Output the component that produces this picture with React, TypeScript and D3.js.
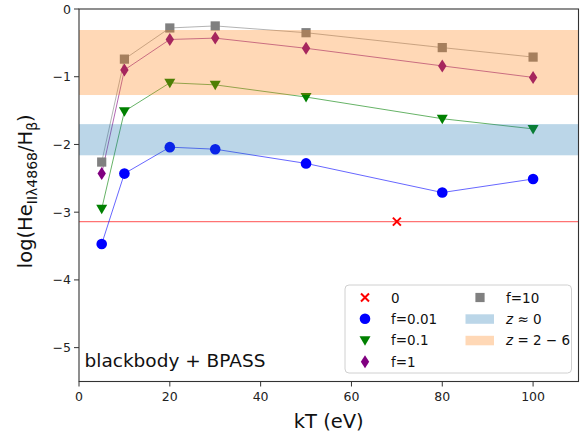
import React from "react";
import * as d3 from "d3";

const kT = [5, 10, 20, 30, 50, 80, 100];
const f001 = [-3.47, -2.43, -2.04, -2.07, -2.28, -2.71, -2.51];
const f01 = [-2.95, -1.51, -1.09, -1.12, -1.30, -1.62, -1.77];
const f1 = [-2.43, -0.90, -0.45, -0.43, -0.58, -0.84, -1.01];
const f10 = [-2.26, -0.74, -0.28, -0.25, -0.35, -0.57, -0.71];
const zeroLevel = -3.14;
const zeroPointX = 70;
const bandLocal = [-2.16, -1.70];
const bandHighZ = [-1.27, -0.31];
const xTicks = [0, 20, 40, 60, 80, 100];
const yTicks = [0, -1, -2, -3, -4, -5];

const W = 582, H = 433;
const M = { left: 79, right: 578.5, top: 9, bottom: 381.5 };
const FONT = "DejaVu Sans, sans-serif";

export default function App() {
  const x = d3.scaleLinear().domain([0, 110]).range([M.left, M.right]);
  const y = d3.scaleLinear().domain([-5.5, 0]).range([M.bottom, M.top]);
  const line = d3.line<number>().x((_, i) => x(kT[i])).y((d) => y(d));

  const series = [
    { vals: f001, color: "blue", shape: "circle" },
    { vals: f01, color: "green", shape: "tri" },
    { vals: f1, color: "purple", shape: "diamond" },
    { vals: f10, color: "gray", shape: "square" },
  ];

  const marker = (shape: string, cx: number, cy: number, color: string, key: string) => {
    if (shape === "circle") return <circle key={key} cx={cx} cy={cy} r={5.3} fill={color} />;
    if (shape === "tri")
      return <path key={key} d={`M${cx - 5.5},${cy - 4} L${cx + 5.5},${cy - 4} L${cx},${cy + 5.5} Z`} fill={color} />;
    if (shape === "diamond")
      return <path key={key} d={`M${cx},${cy - 6.5} L${cx + 4.2},${cy} L${cx},${cy + 6.5} L${cx - 4.2},${cy} Z`} fill={color} />;
    if (shape === "square") return <rect key={key} x={cx - 4.6} y={cy - 4.6} width={9.2} height={9.2} fill={color} />;
    if (shape === "x")
      return (
        <path key={key} d={`M${cx - 4},${cy - 4} L${cx + 4},${cy + 4} M${cx - 4},${cy + 4} L${cx + 4},${cy - 4}`} stroke={color} strokeWidth={2} />
      );
    return null;
  };

  const legX1 = 365, legT1 = 391, legX2 = 480, legT2 = 506;
  const rows = [297.5, 318.8, 340.3, 361.7];

  return (
    <svg width={W} height={H} style={{ position: "absolute", left: 0, top: 0 }} fontFamily={FONT}>
      <rect x={0} y={0} width={W} height={H} fill="white" />
      <defs>
        <clipPath id="plot">
          <rect x={M.left} y={M.top} width={M.right - M.left} height={M.bottom - M.top} />
        </clipPath>
      </defs>
      <g clipPath="url(#plot)">
        <line x1={M.left} x2={M.right} y1={y(zeroLevel)} y2={y(zeroLevel)} stroke="red" strokeOpacity={0.55} strokeWidth={1.2} />
        {series.map((s, si) => (
          <path key={"l" + si} d={line(s.vals) || ""} fill="none" stroke={s.color} strokeOpacity={0.6} strokeWidth={1} />
        ))}
        {marker("x", x(zeroPointX), y(zeroLevel), "red", "zx")}
        {series.map((s, si) => s.vals.map((v, i) => marker(s.shape, x(kT[i]), y(v), s.color, `m${si}-${i}`)))}
        <rect x={M.left} width={M.right - M.left} y={y(bandLocal[1])} height={y(bandLocal[0]) - y(bandLocal[1])} fill="#1f77b4" fillOpacity={0.3} />
        <rect x={M.left} width={M.right - M.left} y={y(bandHighZ[1])} height={y(bandHighZ[0]) - y(bandHighZ[1])} fill="#ff7f0e" fillOpacity={0.3} />
      </g>
      <rect x={M.left} y={M.top} width={M.right - M.left} height={M.bottom - M.top} fill="none" stroke="#333" strokeWidth={1.1} />
      {xTicks.map((t) => (
        <g key={"xt" + t}>
          <line x1={x(t)} x2={x(t)} y1={M.bottom} y2={M.bottom + 5} stroke="#333" />
          <text x={x(t)} y={M.bottom + 19} fontSize={12.5} textAnchor="middle" fill="#222">{t}</text>
        </g>
      ))}
      {yTicks.map((t) => (
        <g key={"yt" + t}>
          <line x1={M.left - 5} x2={M.left} y1={y(t)} y2={y(t)} stroke="#333" />
          <text x={M.left - 8} y={y(t) + 4.5} fontSize={12.5} textAnchor="end" fill="#222">{t === 0 ? "0" : "\u2212" + Math.abs(t)}</text>
        </g>
      ))}
      <text x={(M.left + M.right) / 2} y={428} fontSize={19.5} textAnchor="middle" fill="#111">kT (eV)</text>
      <text transform={`translate(32,${(M.top + M.bottom) / 2 - 4}) rotate(-90)`} fontSize={19.5} textAnchor="middle" fill="#111">
        log(He<tspan fontSize={14} dy={5}>IIλ4868</tspan><tspan dy={-5}>/H</tspan><tspan fontSize={14} dy={5}>β</tspan><tspan dy={-5}>)</tspan>
      </text>
      <text x={84.5} y={367} fontSize={18.5} fill="#111">blackbody + BPASS</text>
      <rect x={345} y={285} width={226.5} height={88} rx={4} fill="white" fillOpacity={0.8} stroke="#d0d0d0" />
      {marker("x", legX1, rows[0], "red", "lx")}
      {marker("circle", legX1, rows[1], "blue", "lc")}
      {marker("tri", legX1, rows[2], "green", "lt")}
      {marker("diamond", legX1, rows[3], "purple", "ld")}
      {marker("square", legX2, rows[0], "gray", "ls")}
      <rect x={465.5} y={rows[1] - 4.5} width={28.5} height={9.5} fill="#1f77b4" fillOpacity={0.3} />
      <rect x={465.5} y={rows[2] - 4.5} width={28.5} height={9.5} fill="#ff7f0e" fillOpacity={0.3} />
      {["0", "f=0.01", "f=0.1", "f=1"].map((t, i) => (
        <text key={"lt" + i} x={legT1} y={rows[i] + 5} fontSize={13.5} fill="#111">{t}</text>
      ))}
      <text x={legT2} y={rows[0] + 5} fontSize={13.5} fill="#111">f=10</text>
      <text x={legT2} y={rows[1] + 5} fontSize={13.5} fill="#111"><tspan fontStyle="italic">z</tspan> ≈ 0</text>
      <text x={legT2} y={rows[2] + 5} fontSize={13.5} fill="#111"><tspan fontStyle="italic">z</tspan> = 2 − 6</text>
    </svg>
  );
}
